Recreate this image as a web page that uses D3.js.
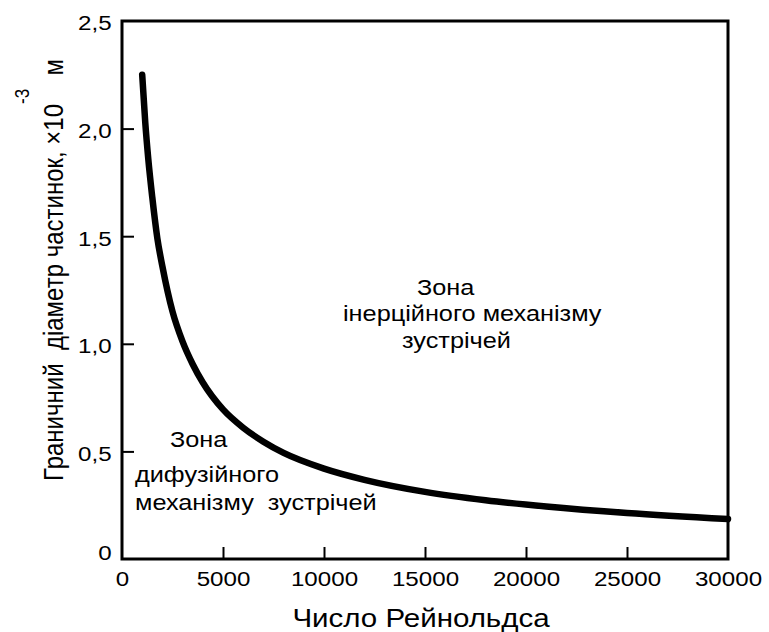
<!DOCTYPE html>
<html>
<head>
<meta charset="utf-8">
<script src="https://cdn.jsdelivr.net/npm/d3@7"></script>
<style>
  body { margin: 0; background: #fff; }
  text { font-family: "Liberation Sans", Arial, sans-serif; fill: #000; white-space: pre; }
</style>
</head>
<body>
<div id="chart"></div>
<script>
// chart values
const reynolds = [1000, 1150, 1300, 1500, 1750, 2000, 2500, 3000, 3500, 4000, 5000, 6000, 7000, 8000, 10000, 12000, 15000, 18000, 21000, 25000, 30000];
const diameter = [2.25, 2.03, 1.86, 1.68, 1.49, 1.36, 1.15, 1.01, 0.905, 0.82, 0.695, 0.61, 0.545, 0.493, 0.42, 0.368, 0.312, 0.273, 0.244, 0.214, 0.186];
const xTicks = [0, 5000, 10000, 15000, 20000, 25000, 30000];
const yTicks = [0, 0.5, 1.0, 1.5, 2.0, 2.5];
const zoneDiff = ["Зона", "дифузійного", "механізму  зустрічей"];
const zoneInert = ["Зона", "інерційного механізму", "зустрічей"];

const width = 769, height = 632;
const margin = {top: 21, right: 41, bottom: 73, left: 122};
const sx = 1.15; // the source figure is a bit stretched sideways

const svg = d3.select("#chart").append("svg")
  .attr("width", width)
  .attr("height", height);

const x = d3.scaleLinear().domain([0, 30000]).range([margin.left, width - margin.right]);
const y = d3.scaleLinear().domain([0, 2.5]).range([559, margin.top]);

const yBottom = y(0), yTop = y(2.5);

// frame
svg.append("rect")
  .attr("x", x(0)).attr("y", yTop)
  .attr("width", x(30000) - x(0)).attr("height", yBottom - yTop)
  .attr("fill", "none").attr("stroke", "#000").attr("stroke-width", 3);

// bottom axis, ticks pointing in
const gx = svg.append("g")
  .attr("transform", `translate(0,${yBottom})`)
  .call(d3.axisBottom(x).tickValues(xTicks).tickSizeInner(-12).tickSizeOuter(0).tickPadding(12)
    .tickFormat(d => String(d)));
gx.select(".domain").remove();
gx.selectAll(".tick line").attr("stroke-width", 2)
  .filter(d => d === 0 || d === 30000).remove();
gx.selectAll(".tick text").attr("font-size", 21).attr("transform", `scale(${sx},1)`);

// left axis
const gy = svg.append("g")
  .attr("transform", `translate(${x(0)},0)`)
  .call(d3.axisLeft(y).tickValues(yTicks).tickSizeInner(-12).tickSizeOuter(0).tickPadding(9)
    .tickFormat(d => d === 0 ? "0" : d3.format(".1f")(d).replace(".", ",")));
gy.select(".domain").remove();
gy.selectAll(".tick line").attr("stroke-width", 2)
  .filter(d => d === 0 || d === 2.5).remove();
gy.selectAll(".tick text").attr("font-size", 21).attr("dy", "0.42em")
  .attr("transform", `scale(${sx},1)`);
gy.selectAll(".tick text").filter(d => d === 0).attr("dy", "0em");

// curve
const data = reynolds.map((r, i) => ({re: r, d: diameter[i]}));
const line = d3.line()
  .x(d => x(d.re))
  .y(d => y(d.d))
  .curve(d3.curveMonotoneX);

svg.append("path")
  .datum(data)
  .attr("d", line)
  .attr("fill", "none")
  .attr("stroke", "#000")
  .attr("stroke-width", 6.5)
  .attr("stroke-linecap", "round");

// zone labels
function block(lines, pos) {
  lines.forEach((t, i) => {
    svg.append("text")
      .attr("font-size", 22)
      .attr("transform", `translate(${pos[i][0]},${pos[i][1]}) scale(${sx},1)`)
      .text(t);
  });
}
block(zoneDiff, [[170, 447], [135, 482], [135, 510]]);
block(zoneInert, [[417, 295], [343, 321], [402, 348]]);

// axis titles
svg.append("text")
  .attr("font-size", 25)
  .attr("text-anchor", "middle")
  .attr("transform", `translate(421,627) scale(1.18,1)`)
  .text("Число Рейнольдса");

const yt = svg.append("text")
  .attr("font-size", 24)
  .attr("text-anchor", "middle")
  .attr("transform", `translate(63,270) rotate(-90) scale(1,${sx})`);
yt.append("tspan").text("Граничний  діаметр частинок, ×10");
yt.append("tspan").attr("font-size", 17).attr("dy", -30).text("-3");
yt.append("tspan").attr("dy", 30).text("  м");
</script>
</body>
</html>
